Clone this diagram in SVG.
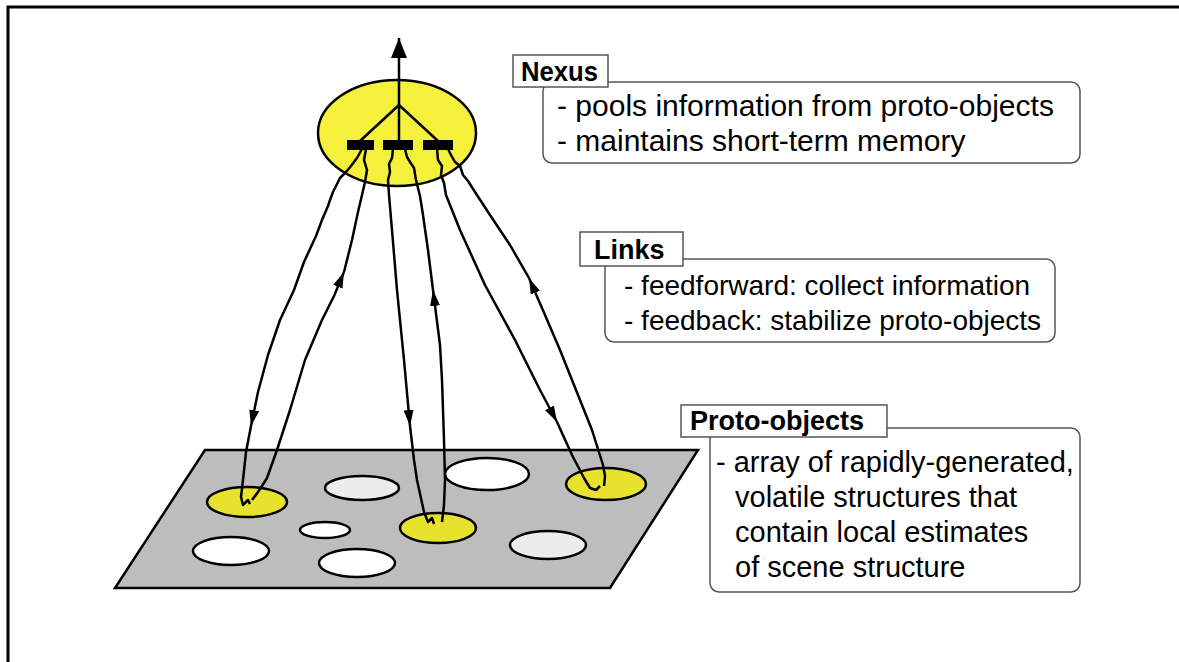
<svg xmlns="http://www.w3.org/2000/svg" width="1179" height="662" viewBox="0 0 1179 662">
<style>
.lbl{font-family:"Liberation Sans",Arial,sans-serif;font-weight:bold;font-size:27px;fill:#000}
.txt{font-family:"Liberation Sans",Arial,sans-serif;font-size:29px;fill:#000}
.nx{font-size:30px}
.lt{font-size:28px}
.box{fill:#fff;stroke:#555;stroke-width:1.5}
.lk{fill:none;stroke:#000;stroke-width:2.5;stroke-linejoin:round}
.el{stroke:#000;stroke-width:2.5}
</style>
<defs>
<marker id="ah2" viewBox="0 0 16 10" refX="16" refY="5" markerWidth="16" markerHeight="10" markerUnits="userSpaceOnUse" orient="auto"><path d="M0,0 L16,5 L0,10 Z" fill="#000"/></marker>
<marker id="top" viewBox="0 0 20 16" refX="20" refY="8" markerWidth="20" markerHeight="16" markerUnits="userSpaceOnUse" orient="auto"><path d="M0,0 L20,8 L0,16 Z" fill="#000"/></marker>
</defs>
<rect width="1179" height="662" fill="#fff"/>
<path d="M8,662 V7 H1179" fill="none" stroke="#000" stroke-width="3"/>

<g id="plane">
<polygon points="205,450 698,450 610,588 115,588" fill="#bdbdbd" stroke="#000" stroke-width="2.5"/>
<ellipse class="el" cx="247" cy="502" rx="40" ry="15" fill="#e6e22e"/>
<ellipse class="el" cx="362" cy="488" rx="37" ry="12" fill="#ececec"/>
<ellipse class="el" cx="487" cy="474" rx="42" ry="16" fill="#fff"/>
<ellipse class="el" cx="606" cy="484" rx="40" ry="16" fill="#e6e22e"/>
<ellipse class="el" cx="325" cy="530" rx="25" ry="8" fill="#fff"/>
<ellipse class="el" cx="438" cy="528" rx="38" ry="15" fill="#e6e22e"/>
<ellipse class="el" cx="231" cy="551" rx="38" ry="14" fill="#fff"/>
<ellipse class="el" cx="357" cy="563" rx="38" ry="14" fill="#fff"/>
<ellipse class="el" cx="548" cy="545" rx="38" ry="14" fill="#ececec"/>
</g>

<g id="nexus">
<ellipse class="el" cx="397" cy="133" rx="79" ry="53" fill="#f5f03c"/>
<path class="lk" d="M360,141 L399,105 L438,141 M399,141 V105"/>
<path class="lk" d="M399,105 V38" marker-end="url(#top)"/>
<rect x="347" y="140" width="27" height="10" fill="#000"/>
<rect x="383" y="140" width="30" height="10" fill="#000"/>
<rect x="423" y="140" width="30" height="10" fill="#000"/>
</g>

<g id="connectors">
<path class="lk" d="M362,149 L357,158 L351,166 L346,172 L340,178 L336,186 L333,192 L330,200 L328,206 L322,220 L316,236 L304,262 L294,290 L280,320 L268,355 L258,392 L251,426" marker-end="url(#ah2)"/>
<path class="lk" d="M251,426 L246,452 L243,480 L241,497 L243,505 L248,500 L250,504"/>
<path class="lk" d="M252,500 L258,492 L262,486 L267,478 L277,450 L290,410 L305,360 L322,320 L334,296 L344,272" marker-end="url(#ah2)"/>
<path class="lk" d="M344,272 L352,240 L358,212 L362,195 L365,182 L367,170 L364,160 L366,149"/>
<path class="lk" d="M393,149 L392,158 L389,164 L390,172 L388,180 L389,195 L392,230 L397,290 L404,360 L410,426" marker-end="url(#ah2)"/>
<path class="lk" d="M410,426 L414,460 L417,480 L424,512 L428,522 L432,518 L434,524"/>
<path class="lk" d="M442,522 L444,505 L445,480 L444,440 L442,380 L440,345 L433,290" marker-end="url(#ah2)"/>
<path class="lk" d="M433,290 L428,250 L423,215 L420,196 L416,180 L414,168 L410,162 L407,157 L405,149"/>
<path class="lk" d="M437,149 L438,160 L442,166 L441,175 L444,183 L446,195 L460,230 L485,285 L515,340 L540,390 L557,422" marker-end="url(#ah2)"/>
<path class="lk" d="M557,422 L572,455 L584,478 L590,488 L596,490 L600,486"/>
<path class="lk" d="M604,486 L605,476 L603,465 L592,430 L576,390 L560,350 L545,315 L529,278" marker-end="url(#ah2)"/>
<path class="lk" d="M529,278 L510,245 L490,215 L475,192 L468,181 L463,175 L460,166 L455,162 L451,155 L448,149"/>
</g>

<g id="nexus-label">
<rect class="box" x="543" y="82" width="537" height="81" rx="9"/>
<rect class="box" x="513" y="55" width="95" height="32"/>
<text class="lbl" x="521" y="81" textLength="77" lengthAdjust="spacingAndGlyphs">Nexus</text>
<text class="txt nx" x="557" y="116">- pools information from proto-objects</text>
<text class="txt nx" x="557" y="151">- maintains short-term memory</text>
</g>

<g id="links-label">
<rect class="box" x="605" y="259" width="450" height="83" rx="9"/>
<rect class="box" x="580" y="232" width="103" height="34"/>
<text class="lbl" x="594" y="259">Links</text>
<text class="txt lt" x="624" y="295">- feedforward: collect information</text>
<text class="txt lt" x="624" y="330">- feedback: stabilize proto-objects</text>
</g>

<g id="proto-label">
<rect class="box" x="710" y="428" width="370" height="164" rx="9"/>
<rect class="box" x="681" y="405" width="206" height="32"/>
<text class="lbl" x="690" y="430">Proto-objects</text>
<text class="txt" x="716" y="472">- array of rapidly-generated,</text>
<text class="txt" x="735" y="507">volatile structures that</text>
<text class="txt" x="735" y="542">contain local estimates</text>
<text class="txt" x="735" y="577">of scene structure</text>
</g>
</svg>
